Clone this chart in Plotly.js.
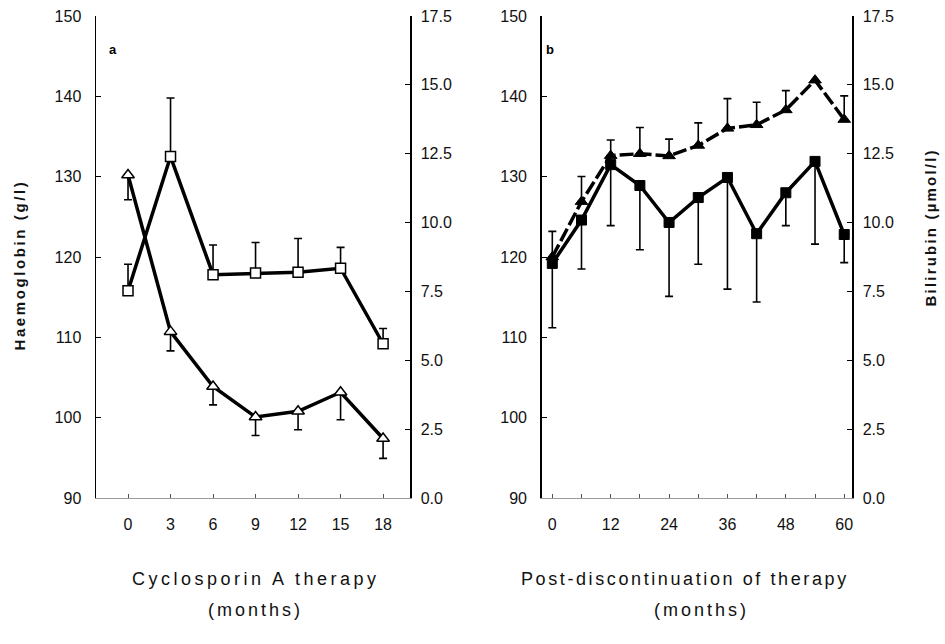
<!DOCTYPE html>
<html>
<head>
<meta charset="utf-8">
<script src="https://cdn.plot.ly/plotly-3.0.1.min.js"></script>
<style>html,body{margin:0;padding:0;background:#fff;}#chart{width:945px;height:644px;}</style>
</head>
<body>
<div id="chart"></div>
<script>
// Panel a: Cyclosporin A therapy
const aMonths = [0, 3, 6, 9, 12, 15, 18];
const aSquareHb = [115.8, 132.5, 117.8, 118.0, 118.1, 118.6, 109.2];
const aSquareErrUp = [3.3, 7.3, 3.7, 3.8, 4.2, 2.6, 1.9];
const aTriBili = [11.73, 6.04, 4.05, 2.94, 3.15, 3.84, 2.16];
const aTriErrDown = [0.9, 0.7, 0.67, 0.67, 0.67, 1.0, 0.72];

// Panel b: post-discontinuation
const bMonths = [0, 6, 12, 18, 24, 30, 36, 42, 48, 54, 60];
const bSquareHb = [119.2, 124.6, 131.5, 128.9, 124.3, 127.4, 129.9, 122.9, 128.0, 131.9, 122.8];
const bSquareErrDown = [8.0, 6.1, 7.6, 8.0, 9.2, 8.3, 13.9, 8.5, 4.1, 10.3, 3.5];
const bTriBili = [8.75, 10.76, 12.43, 12.5, 12.42, 12.8, 13.42, 13.55, 14.09, 15.17, 13.74];
const bTriErrUp = [0.93, 0.91, 0.57, 0.95, 0.61, 0.82, 1.08, 0.82, 0.7, 0, 0.86];

const hbTicks = [90, 100, 110, 120, 130, 140, 150];
const biliTicks = [0, 2.5, 5, 7.5, 10, 12.5, 15, 17.5];
const aTicks = [0, 3, 6, 9, 12, 15, 18];
const bTickVals = [0, 6, 12, 18, 24, 30, 36, 42, 48, 54, 60];
const bTickText = ['0', '', '12', '', '24', '', '36', '', '48', '', '60'];

const zeros = n => new Array(n).fill(0);
const ebar = (up, down) => ({type: 'data', symmetric: false, array: up, arrayminus: down,
  color: '#000', thickness: 1.6, width: 4});

const traces = [
  {x: aMonths, y: aSquareHb, xaxis: 'x', yaxis: 'y', mode: 'lines+markers',
   line: {color: '#000', width: 3.5},
   marker: {symbol: 'square', size: 10, color: '#fff', line: {color: '#000', width: 1.5}},
   error_y: ebar(aSquareErrUp, zeros(aMonths.length))},
  {x: aMonths, y: aTriBili, xaxis: 'x', yaxis: 'y2', mode: 'lines+markers',
   line: {color: '#000', width: 3.5},
   marker: {symbol: 'triangle-up', size: 11, color: '#fff', line: {color: '#000', width: 1.5}},
   error_y: ebar(zeros(aMonths.length), aTriErrDown)},
  {x: bMonths, y: bSquareHb, xaxis: 'x2', yaxis: 'y3', mode: 'lines+markers',
   line: {color: '#000', width: 3.5},
   marker: {symbol: 'square', size: 10, color: '#000', line: {color: '#000', width: 1}},
   error_y: ebar(zeros(bMonths.length), bSquareErrDown)},
  {x: bMonths, y: bTriBili, xaxis: 'x2', yaxis: 'y4', mode: 'lines+markers',
   line: {color: '#000', width: 3.5, dash: '14px,4px'},
   marker: {symbol: 'triangle-up', size: 11, color: '#000', line: {color: '#000', width: 1}},
   error_y: ebar(bTriErrUp, zeros(bMonths.length))}
];

const tickFont = {family: 'Liberation Sans, Arial, sans-serif', size: 16, color: '#111'};
const xTickFont = {family: 'Liberation Sans Narrow, Arial Narrow, Liberation Sans, sans-serif', size: 16, color: '#111'};
const yDom = [1 - 498 / 644, 1 - 16 / 644];

const hbAxis = (anchor) => ({domain: yDom, range: [90, 150], anchor: anchor, tickvals: hbTicks,
  showline: true, linecolor: '#000', linewidth: 1.5, ticks: 'inside', ticklen: 5, tickcolor: '#000',
  showgrid: false, zeroline: false, tickfont: tickFont, ticklabelstandoff: 10});
const biliAxis = (anchor, over) => ({range: [0, 17.5], anchor: anchor, overlaying: over, side: 'right',
  tickvals: biliTicks, tickformat: '.1f', showline: true, linecolor: '#000', linewidth: 1.5,
  ticks: 'inside', ticklen: 5, tickcolor: '#000', showgrid: false, zeroline: false,
  tickfont: tickFont, ticklabelstandoff: 6});

const sp = s => '<span style="letter-spacing:' + s + 'px">';
const titleFont = {family: 'Liberation Sans, Arial, sans-serif', size: 18, color: '#111'};
const yTitleFont = {family: 'Liberation Sans, Arial, sans-serif', size: 15, color: '#111'};
const xTitle = (txt, s, x0, y) => ({text: sp(s) + txt + '</span>', xref: 'paper', yref: 'paper',
  x: x0 / 945, y: 1 - y / 644, xanchor: 'left', align: 'left', showarrow: false, font: titleFont});

const layout = {
  width: 945, height: 644, margin: {l: 0, r: 0, t: 0, b: 0},
  paper_bgcolor: '#fff', plot_bgcolor: '#fff', showlegend: false,
  xaxis: {domain: [96 / 945, 410 / 945], range: [-2.26, 19.9], anchor: 'y', tickvals: aTicks,
    showline: true, linecolor: '#999', linewidth: 1, ticks: 'inside', ticklen: 4, tickcolor: '#555',
    showgrid: false, zeroline: false, tickfont: xTickFont, ticklabelstandoff: 12},
  yaxis: hbAxis('x'),
  yaxis2: biliAxis('x', 'y'),
  xaxis2: {domain: [541.7 / 945, 852 / 945], range: [-2.18, 61.6], anchor: 'y3', tickvals: bTickVals,
    ticktext: bTickText, showline: true, linecolor: '#999', linewidth: 1, ticks: 'inside', ticklen: 4,
    tickcolor: '#555', showgrid: false, zeroline: false, tickfont: xTickFont, ticklabelstandoff: 12},
  yaxis3: hbAxis('x2'),
  yaxis4: biliAxis('x2', 'y3'),
  annotations: [
    {text: '<b>a</b>', xref: 'paper', yref: 'paper', x: 107 / 945, y: 1 - 40 / 644, showarrow: false,
     font: {family: 'Liberation Sans, Arial, sans-serif', size: 13, color: '#000'}},
    {text: '<b>b</b>', xref: 'paper', yref: 'paper', x: 550 / 945, y: 1 - 40 / 644, showarrow: false,
     font: {family: 'Liberation Sans, Arial, sans-serif', size: 13, color: '#000'}},
    {text: '<b>' + sp(2.6) + 'Haemoglobin (g/l)</span></b>', xref: 'paper', yref: 'paper',
     x: 8 / 945, y: 1 - 265 / 644, showarrow: false, textangle: -90, font: yTitleFont},
    {text: '<b>' + sp(2.2) + 'Bilirubin (µmol/l)</span></b>', xref: 'paper', yref: 'paper',
     x: 940 / 945, y: 1 - 228 / 644, showarrow: false, textangle: -90, font: yTitleFont},
    xTitle('Cyclosporin A therapy', 3.5, 130, 591),
    xTitle('(months)', 3, 206, 622),
    xTitle('Post-discontinuation of therapy', 2.6, 519, 591),
    xTitle('(months)', 3, 652, 622)
  ]
};

Plotly.newPlot('chart', traces, layout, {staticPlot: true, displayModeBar: false});
</script>
</body>
</html>
